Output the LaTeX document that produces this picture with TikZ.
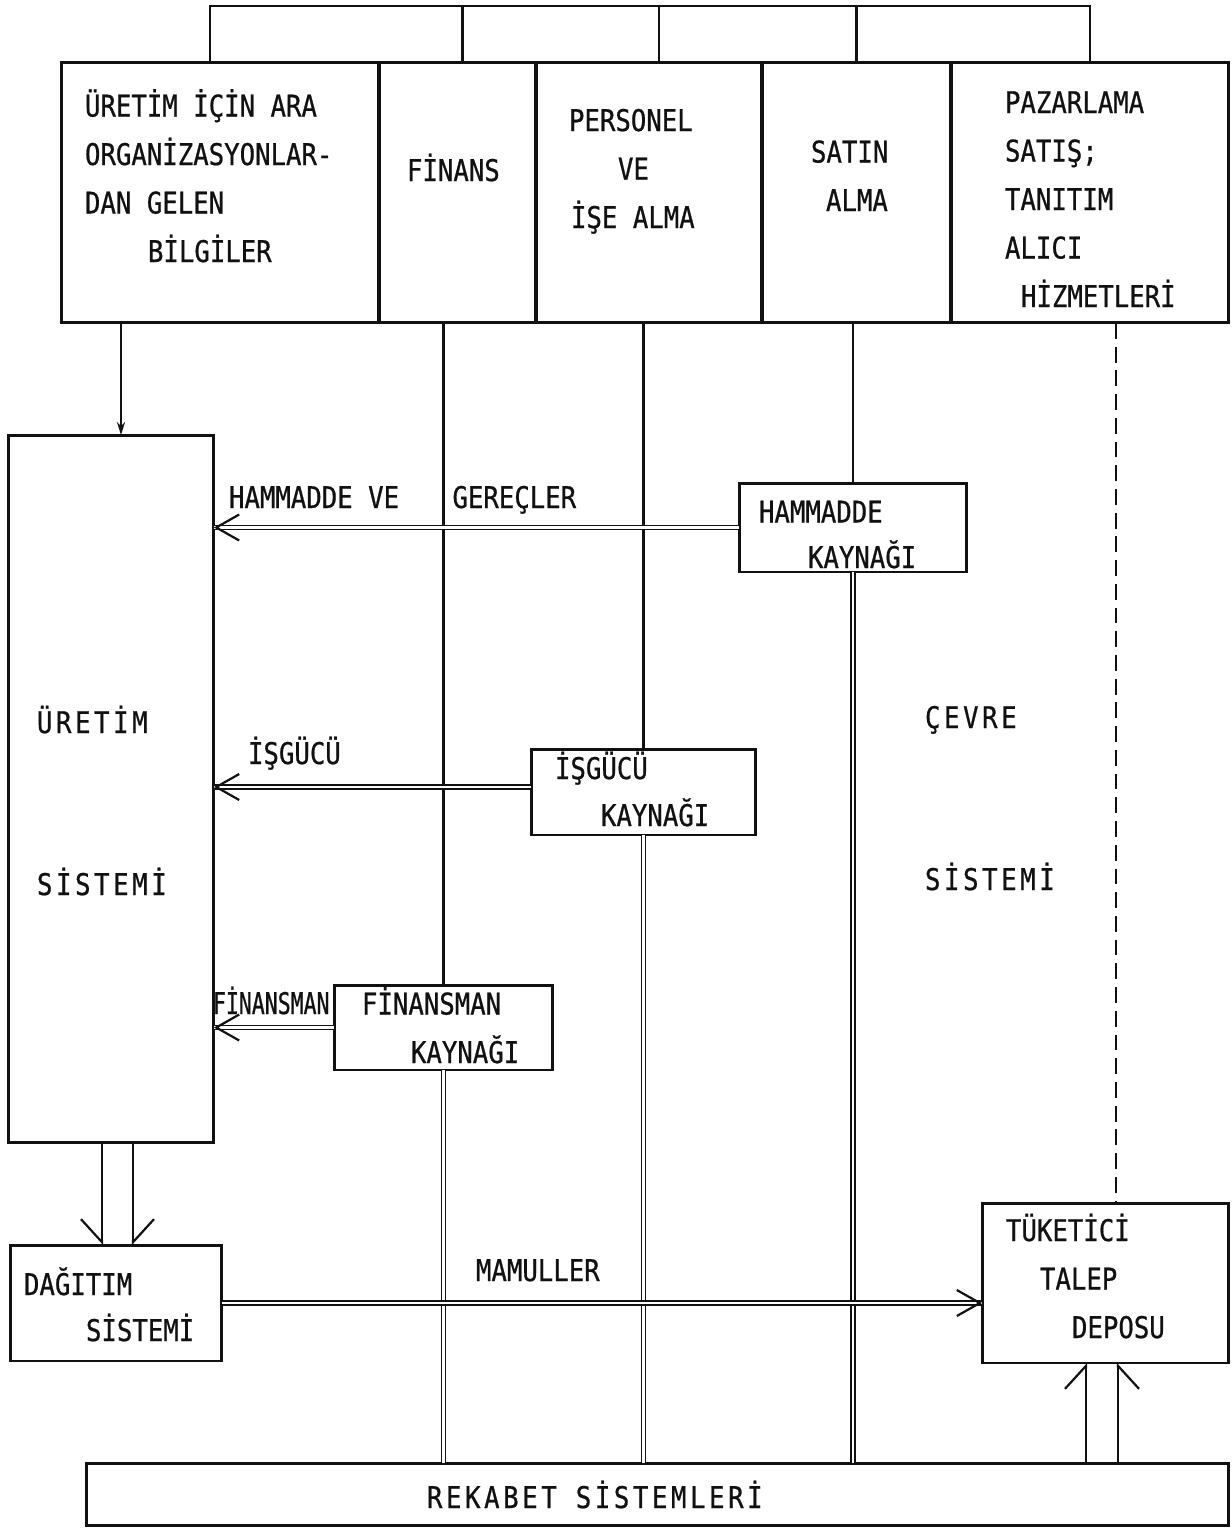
\documentclass[tikz,border=0pt]{standalone}
\usepackage{fontspec}
\usetikzlibrary{arrows.meta}
\newfontfamily\typeFont[FakeStretch=0.86,FakeBold=0.7]{DejaVu Sans Mono}
\newfontfamily\typeFontWide[FakeStretch=0.86,FakeBold=0.7,LetterSpace=12]{DejaVu Sans Mono}
\newfontfamily\typeFontNarrow[FakeStretch=0.72,FakeBold=0.7]{DejaVu Sans Mono}
\definecolor{diagramInk}{HTML}{111111}

\begin{document}
\begin{tikzpicture}[
    x=0.02cm,y=-0.02cm,
    every node/.style={inner sep=0pt,outer sep=0pt},
    txt/.style={font=\typeFont\fontsize{17}{27.6}\selectfont,align=left,anchor=base west,text=diagramInk},
    txtwide/.style={txt,font=\typeFontWide\fontsize{17}{27.6}\selectfont},
    txtnarrow/.style={txt,font=\typeFontNarrow\fontsize{17}{27.6}\selectfont},
    cell/.style={draw=diagramInk,line width=1.7pt,minimum height=5.22cm},
    box/.style={draw=diagramInk,line width=1.7pt},
    link/.style={draw=diagramInk,line width=1.25pt},
    feed/.style={link,-{Stealth[length=0.26cm,width=0.16cm]}},
    pipe/.style={draw=diagramInk,double,double distance=1.2pt,line width=1pt},
    barb/.style={link,-{Straight Barb[length=0.46cm,width=0.52cm]}},
    harpoonA/.style={link,-{Straight Barb[harpoon,length=0.46cm,width=0.84cm]}},
    harpoonB/.style={link,-{Straight Barb[harpoon,swap,length=0.46cm,width=0.84cm]}},
    dashline/.style={link,dash pattern=on 9pt off 4.5pt}
]
\useasboundingbox (0,0) rectangle (1231,1528);
\node[cell,minimum width=6.36cm] (info) at (220,192.5) {};
\node[cell,minimum width=3.14cm] (finance) at (457.5,192.5) {};
\node[cell,minimum width=4.52cm] (staff) at (649,192.5) {};
\node[cell,minimum width=3.78cm] (purchase) at (856.5,192.5) {};
\node[cell,minimum width=5.56cm] (market) at (1090,192.5) {};
\node[txt] (infoText) at (85,262) {ÜRETİM İÇİN ARA\\ORGANİZASYONLAR-\\DAN GELEN\\\hspace*{1.26cm}BİLGİLER};
\node[txt] (financeText) at (407,181) {FİNANS};
\node[txt] (staffText) at (569,228) {PERSONEL\\\hspace*{0.98cm}VE\\\hspace*{0.04cm}İŞE ALMA};
\node[txt] (purchaseText) at (811,211) {SATIN\\\hspace*{0.3cm}ALMA};
\node[txt] (marketText) at (1005,307) {PAZARLAMA\\SATIŞ;\\TANITIM\\ALICI\\\hspace*{0.32cm}HİZMETLERİ};

\node[box,minimum width=4.12cm,minimum height=14.16cm] (production) at (111,789) {};
\node[txtwide] (productionText) at (37,895) {ÜRETİM\\[2.27cm]SİSTEMİ};
\node[txtwide] (envText) at (925,890) {ÇEVRE\\[2.27cm]SİSTEMİ};

\node[box,minimum width=4.56cm,minimum height=1.78cm] (rawSource) at (853,527.5) {};
\node[txt] (rawSourceText) at (759,568) {HAMMADDE\\[-0.06cm]\hspace*{0.98cm}KAYNAĞI};
\node[txt] (rawFlowText) at (229,508) {HAMMADDE~VE~~~\hspace{0.14cm}GEREÇLER};
\node[box,minimum width=4.5cm,minimum height=1.72cm] (labourSource) at (643.5,792) {};
\node[txt] (labourSourceText) at (555,826) {İŞGÜCÜ\\[-0.03cm]\hspace*{0.92cm}KAYNAĞI};
\node[txt] (labourFlowText) at (248,764) {İŞGÜCÜ};
\node[box,minimum width=4.38cm,minimum height=1.7cm] (fundSource) at (443.5,1027.5) {};
\node[txt] (fundSourceText) at (362,1063) {FİNANSMAN\\\hspace*{0.98cm}KAYNAĞI};
\node[txtnarrow] (fundFlowText) at (213,1014) {FİNANSMAN};

\node[box,minimum width=4.24cm,minimum height=2.32cm] (distribution) at (116,1303) {};
\node[txt] (distributionText) at (24,1341) {DAĞITIM\\[-0.05cm]\hspace*{1.24cm}SİSTEMİ};
\node[box,minimum width=4.94cm,minimum height=3.2cm] (demand) at (1105.5,1283) {};
\node[txt] (demandText) at (1006,1338) {TÜKETİCİ\\\hspace*{0.68cm}TALEP\\\hspace*{1.32cm}DEPOSU};
\node[txt] (goodsText) at (476,1281) {MAMULLER};
\node[box,minimum width=22.86cm,minimum height=1.24cm] (rivals) at (657.5,1494) {};
\node[txtwide] (rivalsText) at (427,1508) {REKABET SİSTEMLERİ};

\coordinate (bus) at (0,6);
\draw[link] ([xshift=-0.2cm]info.north) -- ([xshift=-0.2cm]info.north |- bus) -- (market.north |- bus) -- (market.north);
\draw[link] ([xshift=0.1cm]finance.north) -- ([xshift=0.1cm]finance.north |- bus);
\draw[link] ([xshift=0.2cm]staff.north) -- ([xshift=0.2cm]staff.north |- bus);
\draw[link] (purchase.north) -- (purchase.north |- bus);
\draw[feed] ([xshift=0.2cm]production.north |- info.south) -- ([xshift=0.2cm]production.north);

\draw[link] (fundSource.north |- finance.south) -- (fundSource.north);
\draw[link] (labourSource.north |- staff.south) -- (labourSource.north);
\draw[link] (rawSource.north |- purchase.south) -- (rawSource.north);
\draw[dashline] ([xshift=0.21cm]demand.north |- market.south) -- ([xshift=0.21cm]demand.north);
\draw[pipe] (fundSource.south) -- (fundSource.south |- rivals.north);
\draw[pipe] (labourSource.south) -- (labourSource.south |- rivals.north);
\draw[pipe] (rawSource.south) -- (rawSource.south |- rivals.north);

\draw[pipe] (rawSource.west) -- (production.east |- rawSource.west);
\draw[barb] ([xshift=0.1cm]production.east |- rawSource.west) -- (production.east |- rawSource.west);
\draw[pipe] ([yshift=0.1cm]labourSource.west) -- ([yshift=0.1cm]production.east |- labourSource.west);
\draw[barb] ([xshift=0.1cm,yshift=0.1cm]production.east |- labourSource.west) -- ([yshift=0.1cm]production.east |- labourSource.west);
\draw[pipe] (fundSource.west) -- (production.east |- fundSource.west);
\draw[barb] ([xshift=0.1cm]production.east |- fundSource.west) -- (production.east |- fundSource.west);
\draw[pipe] (distribution.east) -- (demand.west |- distribution.east);
\draw[barb] ([xshift=-0.1cm]demand.west |- distribution.east) -- (demand.west |- distribution.east);

\draw[harpoonB] ([xshift=-0.28cm]distribution.north |- production.south) -- ([xshift=-0.28cm]distribution.north);
\draw[harpoonA] ([xshift=0.34cm]distribution.north |- production.south) -- ([xshift=0.34cm]distribution.north);
\draw[harpoonA] ([xshift=-0.39cm]demand.south |- rivals.north) -- ([xshift=-0.39cm]demand.south);
\draw[harpoonB] ([xshift=0.25cm]demand.south |- rivals.north) -- ([xshift=0.25cm]demand.south);
\end{tikzpicture}
\end{document}
